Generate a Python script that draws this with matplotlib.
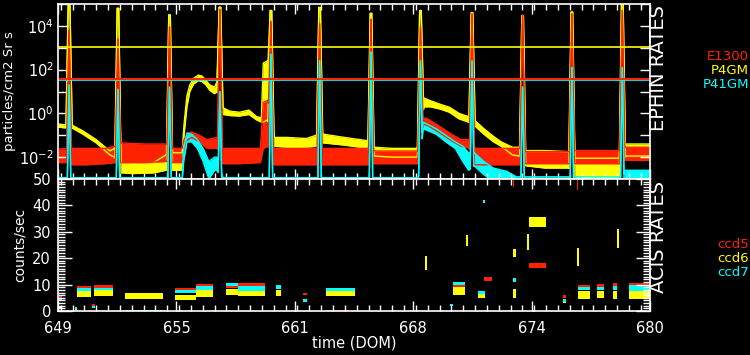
import numpy as np
import matplotlib
matplotlib.use('Agg')
import matplotlib.pyplot as plt
from matplotlib.ticker import FixedLocator, MultipleLocator, FuncFormatter

# ---------------- data ----------------
x_ticks = [649.0, 655.2, 661.4, 667.6, 673.8, 680.0]
x_ticklabels = ['649', '655', '661', '668', '674', '680']

# perigee spikes (DOM) and peak log10 rates per series
spike_times = [649.58, 652.14, 654.84, 657.48, 660.15, 662.70,
               665.39, 667.98, 670.68, 673.33, 675.91, 678.55]
p4gm_peaks = [5.2, 4.8, 4.5, 4.85, 4.7, 4.84, 4.57, 4.7, 4.6, 4.47, 4.63, 5.2]
e1300_peaks = [3.8, 3.4, 3.95, 4.75, 4.2, 4.1, 4.3, 3.95, 4.55, 4.5, 4.55, 4.7]
p41gm_peaks = [1.3, 1.1, 1.2, 1.0, 2.7, 2.4, 2.8, 2.4, 2.4, 1.2, 2.1, 2.1]

# background band (time, log10 low, log10 high)
p4gm_t = [649.00, 649.30, 649.40, 649.76, 650.30, 651.00, 651.72, 651.96, 652.32, 653.00, 654.00,
          654.66, 655.02, 655.50, 655.60, 655.75, 655.90, 656.10, 656.35, 656.55, 656.75, 656.95,
          657.20, 657.30, 657.66, 658.00, 658.50, 659.00, 659.40, 659.65, 659.75, 659.97, 660.33,
          661.00, 662.00, 662.52, 662.88, 664.00, 665.21, 665.57, 666.50, 667.80, 668.16, 668.50,
          669.00, 669.50, 670.00, 670.50, 670.86, 671.30, 671.80, 672.20, 672.80, 673.15, 673.51,
          674.50, 675.73, 676.09, 677.00, 678.37, 678.73, 680.00]
p4gm_lo = [-0.62, -0.66, -0.66, -0.68, -0.95, -1.35, -1.90, -2.00, -2.72, -2.75, -2.72,
           -2.60, -2.60, -2.60, -1.00, 0.30, 1.00, 1.35, 1.50, 1.45, 1.30, 1.05,
           0.90, 1.00, -0.05, -0.10, -0.12, -0.05, -0.30, -0.40, -0.40, -0.30, -1.50,
           -1.55, -1.55, -1.50, -1.35, -1.45, -1.60, -1.95, -2.00, -2.00, 0.30, 0.30,
           0.20, 0.05, -0.25, -0.40, -0.60, -0.95, -1.30, -1.50, -1.90, -1.95, -2.40,
           -2.50, -2.50, -2.90, -2.95, -2.90, -1.95, -1.95]
p4gm_hi = [-0.48, -0.52, -0.52, -0.55, -0.80, -1.20, -1.72, -1.60, -2.25, -2.28, -2.25,
           -1.90, -1.80, -1.80, -0.50, 0.80, 1.30, 1.60, 1.75, 1.70, 1.50, 1.30,
           1.20, 1.40, 0.25, 0.10, 0.05, 0.15, -0.15, -0.20, 2.30, 2.40, -1.10,
           -1.10, -1.15, -1.00, -0.95, -1.10, -1.25, -1.55, -1.60, -1.60, 0.70, 0.58,
           0.42, 0.28, 0.00, -0.15, -0.35, -0.70, -1.05, -1.30, -1.55, -1.55, -1.70,
           -1.70, -1.75, -2.05, -2.05, -2.05, -1.40, -1.40]

e1300_t = [649.00, 649.43, 649.73, 650.50, 651.50, 652.00, 652.28, 653.50, 654.70, 654.98,
           655.50, 655.60, 655.80, 656.00, 656.40, 656.80, 657.33, 657.63, 658.50, 659.60,
           659.75, 660.00, 660.30, 661.50, 662.55, 662.85, 664.00, 665.24, 665.54, 666.50,
           667.83, 668.13, 668.35, 669.00, 669.60, 670.10, 670.53, 670.83, 672.00, 673.18,
           673.48, 674.60, 675.76, 676.06, 677.20, 678.40, 678.70, 680.00]
e1300_lo = [-2.25, -2.25, -2.35, -2.35, -2.30, -2.25, -2.25, -2.25, -2.20, -2.25,
            -2.25, -1.60, -1.20, -1.10, -1.30, -1.60, -1.60, -2.30, -2.30, -2.25,
            -1.60, -1.50, -2.35, -2.35, -2.35, -2.35, -2.35, -2.35, -2.30, -2.30,
            -2.30, -0.50, -0.55, -0.90, -1.25, -1.50, -1.60, -2.35, -2.35, -2.35,
            -2.30, -2.30, -2.30, -2.30, -2.30, -2.30, -2.15, -2.15]
e1300_hi = [-1.62, -1.62, -1.60, -1.60, -1.60, -1.50, -1.35, -1.40, -1.40, -1.60,
            -1.60, -1.20, -0.90, -0.85, -1.00, -1.20, -1.10, -1.60, -1.60, -1.60,
            0.50, 0.60, -1.60, -1.60, -1.60, -1.60, -1.60, -1.60, -1.72, -1.72,
            -1.72, -0.20, -0.25, -0.60, -0.95, -1.20, -1.20, -1.60, -1.60, -1.60,
            -1.75, -1.75, -1.75, -1.70, -1.70, -1.70, -1.55, -1.55]

p41gm_t = [649.00, 655.50, 655.58, 655.75, 656.00, 656.30, 656.60, 656.90, 657.20, 657.32,
           657.64, 667.86, 668.12, 668.80, 669.30, 669.80, 670.20, 670.50, 670.80, 671.30,
           671.80, 672.50, 673.00, 678.60, 678.70, 680.00]
p41gm_lo = [-3.10, -3.10, -2.20, -1.30, -1.30, -1.60, -2.20, -3.00, -2.60, -2.60,
            -3.10, -3.10, -0.70, -0.95, -1.30, -1.60, -2.20, -2.60, -2.40, -2.80,
            -3.10, -3.10, -3.10, -3.10, -3.10, -3.10]
p41gm_hi = [-2.94, -2.94, -1.60, -0.90, -0.95, -1.20, -1.60, -2.20, -2.00, -2.00,
            -2.94, -2.94, -0.40, -0.70, -1.00, -1.30, -1.50, -1.80, -1.80, -2.20,
            -2.50, -2.65, -2.90, -2.90, -2.60, -2.60]

limit_p4gm = 1100.0
limit_e1300 = 36.0
limit_p41gm = 32.0

# ACIS rates: clusters (start, end, low, high) in counts/sec
ccd5_t0 = [649.00, 650.78, 649.99, 650.89, 655.13, 656.23, 657.80, 658.42, 661.83, 663.03,
           669.68, 671.31, 673.66, 675.44, 676.23, 677.22, 678.06, 678.90, 672.82, 676.18]
ccd5_t1 = [649.21, 650.94, 650.73, 651.88, 656.23, 657.12, 658.42, 659.84, 662.04, 664.24,
           670.31, 671.72, 674.55, 675.60, 676.86, 677.59, 678.27, 680.00, 672.90, 676.24]
ccd5_lo = [4.8, 1.9, 8.6, 8.9, 7.8, 9.5, 8.6, 9.6, 6.0, 0.0,
           9.0, 11.4, 16.3, 5.0, 9.0, 9.2, 9.5, 9.8, 47.0, 46.0]
ccd5_hi = [5.6, 2.6, 9.6, 10.0, 8.8, 10.3, 9.4, 10.6, 7.0, 0.3,
           10.0, 12.9, 18.2, 6.0, 10.0, 10.2, 10.5, 10.6, 50.0, 50.0]

ccd6_t0 = [649.00, 649.89, 649.99, 650.89, 652.51, 655.13, 656.23, 657.80, 658.42, 660.41,
           663.03, 668.22, 669.68, 670.36, 670.99, 672.82, 672.82, 673.56, 673.66, 675.44,
           676.18, 676.23, 677.22, 678.06, 678.27, 678.90]
ccd6_t1 = [649.21, 649.99, 650.73, 651.88, 654.50, 656.23, 657.12, 658.42, 659.84, 660.68,
           664.55, 668.32, 670.31, 670.47, 671.36, 672.98, 672.98, 673.66, 674.55, 675.60,
           676.28, 676.86, 677.59, 678.27, 678.37, 680.00]
ccd6_lo = [1.0, 0.2, 5.3, 5.5, 4.5, 4.0, 5.2, 6.0, 5.5, 5.5,
           5.5, 15.5, 6.0, 24.6, 5.0, 20.5, 5.0, 23.0, 31.8, 3.0,
           17.0, 4.7, 5.0, 4.7, 24.0, 4.7]
ccd6_hi = [2.0, 0.8, 7.5, 7.8, 7.0, 6.0, 7.8, 8.5, 7.5, 8.0,
           7.5, 21.0, 9.0, 28.8, 6.5, 23.5, 8.5, 29.0, 35.6, 4.5,
           24.0, 7.5, 7.5, 7.5, 31.0, 7.6]

ccd7_t0 = [649.00, 649.89, 650.78, 649.99, 650.89, 652.51, 655.13, 656.23, 657.80, 658.42,
           660.41, 661.83, 663.03, 669.53, 669.68, 670.99, 671.28, 672.82, 675.44, 676.23,
           677.22, 678.06, 678.90]
ccd7_t1 = [649.21, 649.99, 650.94, 650.73, 651.88, 654.50, 656.23, 657.12, 658.42, 659.84,
           660.68, 662.04, 664.55, 669.68, 670.31, 671.36, 671.34, 672.98, 675.60, 676.86,
           677.59, 678.27, 680.00]
ccd7_lo = [3.8, 0.8, 1.3, 7.5, 7.8, 0.0, 7.0, 7.8, 9.4, 7.5,
           8.5, 3.5, 7.5, 1.8, 9.8, 6.5, 41.0, 11.0, 3.5, 8.0,
           8.0, 7.8, 7.6]
ccd7_hi = [4.8, 1.6, 2.0, 8.6, 9.0, 0.3, 7.8, 9.5, 10.6, 9.6,
           10.0, 4.7, 8.6, 2.6, 11.0, 7.5, 42.0, 12.5, 4.5, 9.0,
           9.0, 9.5, 9.8]

RED = '#ff2200'
YEL = '#ffff00'
CYA = '#00ffff'


def with_spikes(t, lo, hi, peaks, edge, top):
    t = np.asarray(t, float)
    lo = np.asarray(lo, float)
    hi = np.asarray(hi, float)
    keep = np.ones(len(t), bool)
    extra = []
    for c, p in zip(spike_times, peaks):
        keep &= ~((t > c - edge) & (t < c + edge))
        for tt in (c - edge, c + edge):
            extra.append((tt, np.interp(tt, t, lo), np.interp(tt, t, hi)))
        if top > 0:
            extra.append((c - top, p, p))
            extra.append((c + top, p, p))
        else:
            extra.append((c, p, p))
    pts = [(a, b, d) for a, b, d in zip(t[keep], lo[keep], hi[keep])] + extra
    pts.sort(key=lambda r: r[0])
    arr = np.array(pts)
    return arr[:, 0], 10 ** arr[:, 1], 10 ** arr[:, 2]


fig = plt.figure(figsize=(7.5, 3.55), dpi=100, facecolor='black')
ax1 = fig.add_axes([58 / 750, 1 - 179 / 355, 592 / 750, 175 / 355], facecolor='black')
ax2 = fig.add_axes([58 / 750, 1 - 311 / 355, 592 / 750, 132 / 355], facecolor='black')

# ---- top panel ----
ax1.set_yscale('log')
for (t, lo, hi, pk, edge, top, col) in [
        (p4gm_t, p4gm_lo, p4gm_hi, p4gm_peaks, 0.16, 0.04, YEL),
        (e1300_t, e1300_lo, e1300_hi, e1300_peaks, 0.13, 0.0, RED),
        (p41gm_t, p41gm_lo, p41gm_hi, p41gm_peaks, 0.09, 0.0, CYA)]:
    tt, l, h = with_spikes(t, lo, hi, pk, edge, top)
    ax1.fill_between(tt, l, h, color=col, lw=0)
    ax1.plot(tt, l, color=col, lw=1.0)
    ax1.plot(tt, h, color=col, lw=1.0)

ax1.axhline(limit_p4gm, color=YEL, lw=1.2)
ax1.axhline(limit_p41gm, color=CYA, lw=1.2)
ax1.axhline(limit_e1300, color=RED, lw=1.4)

ax1.set_xlim(649, 680)
ax1.set_ylim(1e-3, 1e5)

# ---- bottom panel ----
for t0, t1, lo, hi, col in [(ccd6_t0, ccd6_t1, ccd6_lo, ccd6_hi, YEL),
                            (ccd7_t0, ccd7_t1, ccd7_lo, ccd7_hi, CYA),
                            (ccd5_t0, ccd5_t1, ccd5_lo, ccd5_hi, RED)]:
    t0 = np.asarray(t0); t1 = np.asarray(t1)
    lo = np.asarray(lo); hi = np.asarray(hi)
    ax2.bar(t0, hi - lo, width=np.maximum(t1 - t0, 0.05), bottom=lo,
            align='edge', color=col, lw=0)
ax2.set_xlim(649, 680)
ax2.set_ylim(0, 50)

# ---- styling ----
for ax in (ax1, ax2):
    for s in ax.spines.values():
        s.set_color('white')
        s.set_linewidth(1.2)
    ax.xaxis.set_major_locator(FixedLocator(x_ticks))
    ax.xaxis.set_minor_locator(MultipleLocator(0.62))
    ax.tick_params(which='both', colors='white', direction='in',
                   top=True, bottom=True, left=True, right=True, width=1.0)
    ax.tick_params(which='major', length=7)
    ax.tick_params(which='minor', length=4)

ax1.set_xticklabels([])
ax1.yaxis.set_major_locator(FixedLocator([10.0 ** k for k in range(-3, 6)]))
ax1.yaxis.set_minor_locator(FixedLocator([]))
ax1.yaxis.set_major_formatter(FuncFormatter(
    lambda v, p: (r'$10^{%d}$' % round(np.log10(v))) if round(np.log10(v)) in (-2, 0, 2, 4) else ''))
ax1.tick_params(axis='y', labelsize=10.5, labelcolor='white', pad=3)

ax2.yaxis.set_major_locator(MultipleLocator(10))
ax2.yaxis.set_minor_locator(MultipleLocator(1))
ax2.tick_params(axis='y', which='major', length=10)
ax2.tick_params(axis='y', which='minor', length=5)
ax2.set_xticklabels(x_ticklabels)
ax2.tick_params(axis='both', labelsize=10.5, labelcolor='white')
ax2.tick_params(axis='y', pad=5)
ax2.tick_params(axis='x', pad=7)

ax1.set_ylabel('particles/cm2 Sr s', color='white', fontsize=9.5, labelpad=2)
ax2.set_ylabel('counts/sec', color='white', fontsize=10, labelpad=4)
ax2.set_xlabel('time (DOM)', color='white', fontsize=10.5, labelpad=0)

fig.text(658 / 750, 1 - 68 / 355, 'EPHIN RATES', rotation=90, color='white',
         fontsize=14, ha='center', va='center')
fig.text(658 / 750, 1 - 237 / 355, 'ACIS RATES', rotation=90, color='white',
         fontsize=14, ha='center', va='center')

for txt, col, y in [('E1300', RED, 57), ('P4GM', YEL, 71), ('P41GM', CYA, 85)]:
    fig.text(749 / 750, 1 - y / 355, txt, color=col, fontsize=9.5, ha='right', va='center')
for txt, col, y in [('ccd5', RED, 245), ('ccd6', YEL, 259), ('ccd7', CYA, 273)]:
    fig.text(749 / 750, 1 - y / 355, txt, color=col, fontsize=9.5, ha='right', va='center')

fig.savefig('out.png', dpi=100, facecolor='black')
